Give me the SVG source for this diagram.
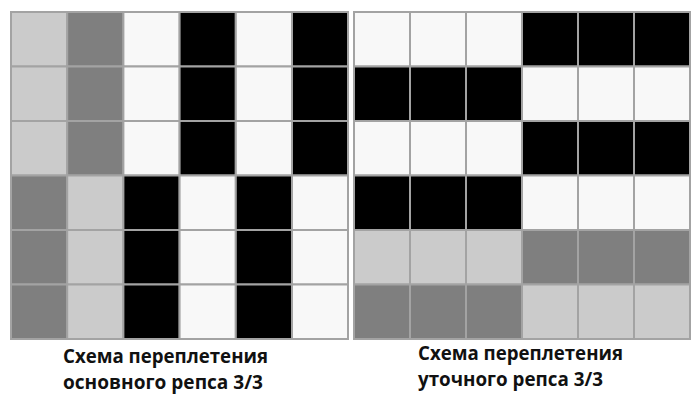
<svg xmlns="http://www.w3.org/2000/svg" width="700" height="406" viewBox="0 0 700 406">
<style>
.c{stroke:#a3a3a3;stroke-width:2}
.lg{fill:#cbcbcb}.dg{fill:#7f7f7f}.w{fill:#f8f8f8}.b{fill:#000}
.t{font-family:"Open Sans","Liberation Sans",sans-serif;font-weight:bold;font-size:19px;fill:#111}
</style>
<rect width="700" height="406" fill="#ffffff"/>
<g id="warp-rep">
<rect class="c lg" x="11" y="12" width="56.2" height="54.5"/><rect class="c dg" x="67.2" y="12" width="56.2" height="54.5"/><rect class="c w" x="123.4" y="12" width="56.2" height="54.5"/><rect class="c b" x="179.6" y="12" width="56.2" height="54.5"/><rect class="c w" x="235.8" y="12" width="56.2" height="54.5"/><rect class="c b" x="292" y="12" width="56" height="54.5"/>
<rect class="c lg" x="11" y="66.5" width="56.2" height="54.5"/><rect class="c dg" x="67.2" y="66.5" width="56.2" height="54.5"/><rect class="c w" x="123.4" y="66.5" width="56.2" height="54.5"/><rect class="c b" x="179.6" y="66.5" width="56.2" height="54.5"/><rect class="c w" x="235.8" y="66.5" width="56.2" height="54.5"/><rect class="c b" x="292" y="66.5" width="56" height="54.5"/>
<rect class="c lg" x="11" y="121" width="56.2" height="54.5"/><rect class="c dg" x="67.2" y="121" width="56.2" height="54.5"/><rect class="c w" x="123.4" y="121" width="56.2" height="54.5"/><rect class="c b" x="179.6" y="121" width="56.2" height="54.5"/><rect class="c w" x="235.8" y="121" width="56.2" height="54.5"/><rect class="c b" x="292" y="121" width="56" height="54.5"/>
<rect class="c dg" x="11" y="175.5" width="56.2" height="54.5"/><rect class="c lg" x="67.2" y="175.5" width="56.2" height="54.5"/><rect class="c b" x="123.4" y="175.5" width="56.2" height="54.5"/><rect class="c w" x="179.6" y="175.5" width="56.2" height="54.5"/><rect class="c b" x="235.8" y="175.5" width="56.2" height="54.5"/><rect class="c w" x="292" y="175.5" width="56" height="54.5"/>
<rect class="c dg" x="11" y="230" width="56.2" height="54.5"/><rect class="c lg" x="67.2" y="230" width="56.2" height="54.5"/><rect class="c b" x="123.4" y="230" width="56.2" height="54.5"/><rect class="c w" x="179.6" y="230" width="56.2" height="54.5"/><rect class="c b" x="235.8" y="230" width="56.2" height="54.5"/><rect class="c w" x="292" y="230" width="56" height="54.5"/>
<rect class="c dg" x="11" y="284.5" width="56.2" height="54.5"/><rect class="c lg" x="67.2" y="284.5" width="56.2" height="54.5"/><rect class="c b" x="123.4" y="284.5" width="56.2" height="54.5"/><rect class="c w" x="179.6" y="284.5" width="56.2" height="54.5"/><rect class="c b" x="235.8" y="284.5" width="56.2" height="54.5"/><rect class="c w" x="292" y="284.5" width="56" height="54.5"/>
</g>
<g id="weft-rep">
<rect class="c w" x="354" y="12" width="56" height="54.5"/><rect class="c w" x="410" y="12" width="56" height="54.5"/><rect class="c w" x="466" y="12" width="56" height="54.5"/><rect class="c b" x="522" y="12" width="56" height="54.5"/><rect class="c b" x="578" y="12" width="56" height="54.5"/><rect class="c b" x="634" y="12" width="56" height="54.5"/>
<rect class="c b" x="354" y="66.5" width="56" height="54.5"/><rect class="c b" x="410" y="66.5" width="56" height="54.5"/><rect class="c b" x="466" y="66.5" width="56" height="54.5"/><rect class="c w" x="522" y="66.5" width="56" height="54.5"/><rect class="c w" x="578" y="66.5" width="56" height="54.5"/><rect class="c w" x="634" y="66.5" width="56" height="54.5"/>
<rect class="c w" x="354" y="121" width="56" height="54.5"/><rect class="c w" x="410" y="121" width="56" height="54.5"/><rect class="c w" x="466" y="121" width="56" height="54.5"/><rect class="c b" x="522" y="121" width="56" height="54.5"/><rect class="c b" x="578" y="121" width="56" height="54.5"/><rect class="c b" x="634" y="121" width="56" height="54.5"/>
<rect class="c b" x="354" y="175.5" width="56" height="54.5"/><rect class="c b" x="410" y="175.5" width="56" height="54.5"/><rect class="c b" x="466" y="175.5" width="56" height="54.5"/><rect class="c w" x="522" y="175.5" width="56" height="54.5"/><rect class="c w" x="578" y="175.5" width="56" height="54.5"/><rect class="c w" x="634" y="175.5" width="56" height="54.5"/>
<rect class="c lg" x="354" y="230" width="56" height="54.5"/><rect class="c lg" x="410" y="230" width="56" height="54.5"/><rect class="c lg" x="466" y="230" width="56" height="54.5"/><rect class="c dg" x="522" y="230" width="56" height="54.5"/><rect class="c dg" x="578" y="230" width="56" height="54.5"/><rect class="c dg" x="634" y="230" width="56" height="54.5"/>
<rect class="c dg" x="354" y="284.5" width="56" height="54.5"/><rect class="c dg" x="410" y="284.5" width="56" height="54.5"/><rect class="c dg" x="466" y="284.5" width="56" height="54.5"/><rect class="c lg" x="522" y="284.5" width="56" height="54.5"/><rect class="c lg" x="578" y="284.5" width="56" height="54.5"/><rect class="c lg" x="634" y="284.5" width="56" height="54.5"/>
</g>
<g id="labels">
<text class="t" x="63" y="363" textLength="205" lengthAdjust="spacingAndGlyphs">Схема переплетения</text>
<text class="t" x="63" y="389" textLength="200" lengthAdjust="spacingAndGlyphs">основного репса 3/3</text>
<text class="t" x="418" y="360" textLength="205" lengthAdjust="spacingAndGlyphs">Схема переплетения</text>
<text class="t" x="418" y="386" textLength="185" lengthAdjust="spacingAndGlyphs">уточного репса 3/3</text>
</g>
</svg>
